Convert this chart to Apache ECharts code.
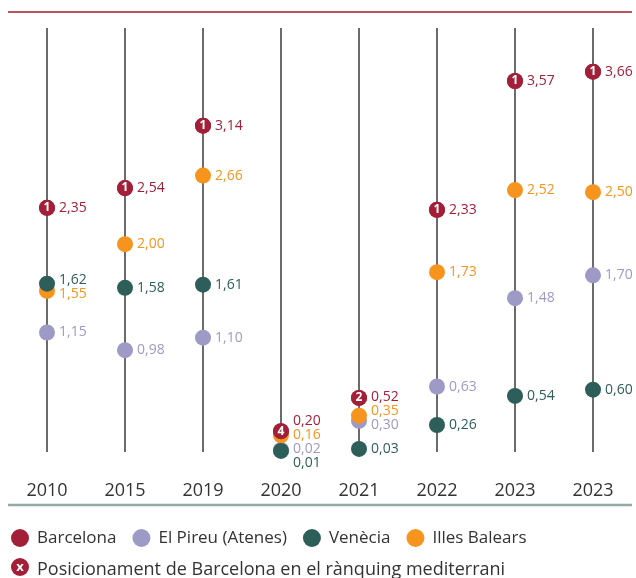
<!DOCTYPE html>
<html>
<head>
<meta charset="utf-8">
<script src="https://cdn.jsdelivr.net/npm/echarts@6/dist/echarts.min.js"></script>
<style>
  html, body { margin: 0; padding: 0; background: #fff; }
  #chart { width: 636px; height: 578px; }
</style>
</head>
<body>
<div id="chart"></div>
<script>
// categories (anys)
const years = ['2010', '2015', '2019', '2020', '2021', '2022', '2023', '2023']
// valors per port
const barcelona = [2.35, 2.54, 3.14, 0.20, 0.52, 2.33, 3.57, 3.66]
const elPireu = [1.15, 0.98, 1.10, 0.02, 0.30, 0.63, 1.48, 1.70]
const venecia = [1.62, 1.58, 1.61, 0.01, 0.03, 0.26, 0.54, 0.60]
const illesBalears = [1.55, 2.00, 2.66, 0.16, 0.35, 1.73, 2.52, 2.50]
// posició de Barcelona en el rànquing
const ranking = [1, 1, 1, 4, 2, 1, 1, 1]

const colors = {
  barcelona: '#a31f38',
  elPireu: '#9e9ac6',
  venecia: '#2e5e59',
  illesBalears: '#f7941d',
}
const font = '"Open Sans", "Noto Sans", sans-serif'

/* mides de la graella, per calcular on cau cada etiqueta */
const gridTop = 28
const gridBottom = 126
const chartH = 578
const yMin = 0
const yMax = 4.08
const toPx = (v) => gridTop + (yMax - v) / (yMax - yMin) * (chartH - gridTop - gridBottom)

const seriesList = [
  { key: 'elPireu', name: 'El Pireu (Atenes)', data: elPireu, z: 2 },
  { key: 'illesBalears', name: 'Illes Balears', data: illesBalears, z: 3 },
  { key: 'venecia', name: 'Venècia', data: venecia, z: 4 },
  { key: 'barcelona', name: 'Barcelona', data: barcelona, z: 5 },
]

/* separa les etiquetes que es trepitgen dins de cada any */
const labelGap = 14
let shifts = {}
seriesList.forEach(s => { shifts[s.key] = [] })
for (let i = 0; i < years.length; i++) {
  let items = seriesList.map(s => ({ key: s.key, y: toPx(s.data[i]) }))
  items.sort((a, b) => a.y - b.y)
  let groups = items.map(it => ({ members: [it], center: it.y }))
  let changed = true
  while (changed) {
    changed = false
    for (let g = 1; g < groups.length; g++) {
      let a = groups[g - 1]
      let b = groups[g]
      let aEnd = a.center + (a.members.length - 1) * labelGap / 2
      let bStart = b.center - (b.members.length - 1) * labelGap / 2
      if (bStart - aEnd < labelGap) {
        let members = a.members.concat(b.members)
        let center = members.reduce((sum, m) => sum + m.y, 0) / members.length
        groups.splice(g - 1, 2, { members: members, center: center })
        changed = true
        break
      }
    }
  }
  groups.forEach(gr => {
    gr.members.forEach((m, k) => {
      let ly = gr.center + (k - (gr.members.length - 1) / 2) * labelGap
      shifts[m.key][i] = ly - m.y
    })
  })
}

const fmt = (v) => v.toFixed(2).replace('.', ',')

let series = seriesList.map(s => ({
  name: s.name,
  type: 'scatter',
  z: s.z,
  symbol: 'circle',
  symbolSize: 16,
  itemStyle: { color: colors[s.key], opacity: 1 },
  data: s.data.map((v, i) => [i, v]),
  label: {
    show: true,
    position: 'right',
    distance: 4,
    color: colors[s.key],
    fontFamily: font,
    fontSize: 14,
    formatter: (p) => fmt(p.value[1]),
  },
  labelLayout: (params) => ({ dy: shifts[s.key][params.dataIndex] }),
  emphasis: { disabled: true },
}))

// número del rànquing dins del punt de Barcelona
series.push({
  name: 'rank',
  type: 'scatter',
  z: 6,
  symbolSize: 16,
  itemStyle: { color: colors.barcelona, opacity: 1 },
  data: barcelona.map((v, i) => [i, v]),
  label: {
    show: true,
    position: 'inside',
    color: '#fff',
    fontFamily: font,
    fontWeight: 'bold',
    fontSize: 12,
    formatter: (p) => String(ranking[p.dataIndex]),
  },
  emphasis: { disabled: true },
})

let myChart = echarts.init(document.getElementById('chart'))
let option = {
  animation: false,
  grid: { left: 47, right: 43, top: gridTop, bottom: gridBottom },
  xAxis: {
    type: 'category',
    data: years,
    boundaryGap: false,
    axisLine: { show: false },
    axisTick: { show: false },
    axisLabel: { margin: 30, color: '#333', fontSize: 18, fontFamily: font, interval: 0 },
    splitLine: { show: true, interval: 0, lineStyle: { color: '#3a3a3a', width: 1.5 } },
  },
  yAxis: {
    type: 'value',
    min: yMin,
    max: yMax,
    show: false,
  },
  legend: {
    data: ['Barcelona', 'El Pireu (Atenes)', 'Venècia', 'Illes Balears'],
    left: 6,
    top: 527,
    padding: [2, 5, 2, 5],
    icon: 'circle',
    itemWidth: 18,
    itemHeight: 18,
    itemGap: 16,
    textStyle: { color: '#333', fontSize: 17, fontFamily: font, padding: [0, 0, 0, 3] },
    selectedMode: false,
  },
  graphic: [
    // línia vermella de dalt
    { type: 'line', shape: { x1: 8, y1: 12, x2: 632, y2: 12 }, style: { stroke: '#b9525e', lineWidth: 2 } },
    // línia de base sota els anys
    { type: 'line', shape: { x1: 8, y1: 505, x2: 632, y2: 505 }, style: { stroke: '#93aaa6', lineWidth: 2.5 } },
    // llegenda del rànquing
    { type: 'circle', shape: { cx: 20, cy: 567, r: 9 }, style: { fill: colors.barcelona } },
    {
      type: 'text', x: 20, y: 567,
      style: { text: 'x', fill: '#fff', font: 'bold 13px ' + font, align: 'center', verticalAlign: 'middle' },
    },
    {
      type: 'text', x: 37, y: 570,
      style: {
        text: 'Posicionament de Barcelona en el rànquing mediterrani',
        fill: '#333', font: '18px ' + font, verticalAlign: 'middle',
      },
    },
  ],
  series: series,
}
myChart.setOption(option)
</script>
</body>
</html>
